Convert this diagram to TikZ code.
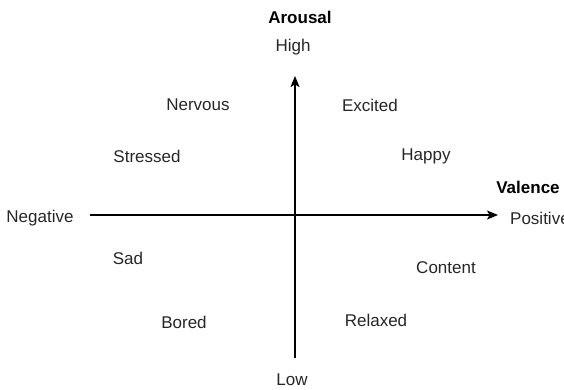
\documentclass[tikz,border=0pt]{standalone}
\usepackage{fontspec}
\setmainfont{Liberation Sans}
\usepackage{tikz}
\usetikzlibrary{arrows.meta}
\tikzset{
  emotion/.style={%
    inner sep=0,
    font=\fontsize{17}{20}\selectfont,
    text=black!85,
  },
  axistitle/.style={%
    emotion,
    font=\fontsize{17}{20}\selectfont\bfseries,
    text=black,
  },
  axisline/.style={%
    line width=1.5pt,
    -{Stealth[length=11pt,width=9pt,inset=2.5pt]},
  }
}
\begin{document}
\begin{tikzpicture}[x=1pt,y=-1pt]
  \useasboundingbox (0,0) rectangle (564,390);
  % axis titles and ends
  \node (arousal) [axistitle] at (300,17) {Arousal};
  \node (valence) [axistitle] at (528,187) {Valence};
  \node (high) [emotion] at (293,47) {High};
  \node (low) [emotion] at (292,380) {Low};
  \node (negative) [emotion] at (40,218) {Negative};
  \node (positive) [emotion,anchor=west] at (510,218) {Positive};
  % axes
  \coordinate (arbottom) at (295,358);
  \coordinate (artop) at (295,76);
  \coordinate (valeft) at (90,215);
  \coordinate (varight) at (498,215);
  \draw [axisline] (valeft) -- (varight);
  \draw [axisline] (arbottom) -- (artop);
  % emotions
  \node (nervous) [emotion] at (198,105) {Nervous};
  \node (excited) [emotion] at (370,105) {Excited};
  \node (stressed) [emotion] at (147,156) {Stressed};
  \node (happy) [emotion] at (426,156) {Happy};
  \node (sad) [emotion] at (128,258) {Sad};
  \node (content) [emotion] at (446,268) {Content};
  \node (bored) [emotion] at (184,322) {Bored};
  \node (relaxed) [emotion] at (376,320) {Relaxed};
\end{tikzpicture}
\end{document}
